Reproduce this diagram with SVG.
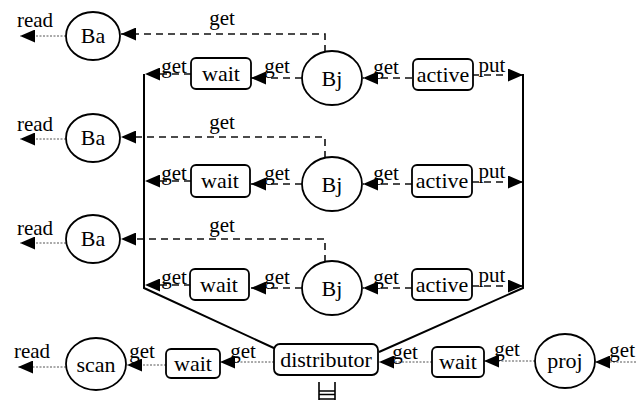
<svg xmlns="http://www.w3.org/2000/svg" width="636" height="402" viewBox="0 0 636 402" font-family="'Liberation Serif', 'Times New Roman', serif">
<style>
.n{font-size:22px;text-anchor:middle;fill:#000}
.e{font-size:21px;text-anchor:middle;fill:#000}
.shape{fill:#fff;stroke:#000;stroke-width:1.8}
.dash{fill:none;stroke:#111;stroke-width:1.6;stroke-dasharray:7 5}
.dot{fill:none;stroke:#555;stroke-width:1;stroke-dasharray:2 1.5}
.solid{fill:none;stroke:#000;stroke-width:2}
</style>
<defs>
<marker id="ah" markerUnits="userSpaceOnUse" markerWidth="15" markerHeight="13" refX="15" refY="6.5" orient="auto">
<path d="M0,0 L15,6.5 L0,13 z" fill="#000"/>
</marker>
</defs>
<g id="connectors">
<path class="dash" d="M325,52 V34 H121" marker-end="url(#ah)"/>
<path class="dot" d="M66,36 H20" marker-end="url(#ah)"/>
<path class="dash" d="M302,78 H251" marker-end="url(#ah)"/>
<path class="dash" d="M191,74 H145" marker-end="url(#ah)"/>
<path class="dash" d="M412,78 H363" marker-end="url(#ah)"/>
<path class="dash" d="M472,75 H523" marker-end="url(#ah)"/>
<path class="dash" d="M325,158 V137 H121" marker-end="url(#ah)"/>
<path class="dot" d="M66,139 H20" marker-end="url(#ah)"/>
<path class="dash" d="M302,184 H251" marker-end="url(#ah)"/>
<path class="dash" d="M191,181 H145" marker-end="url(#ah)"/>
<path class="dash" d="M412,184 H363" marker-end="url(#ah)"/>
<path class="dash" d="M472,182 H523" marker-end="url(#ah)"/>
<path class="dash" d="M325,262 V239 H121" marker-end="url(#ah)"/>
<path class="dot" d="M66,243 H20" marker-end="url(#ah)"/>
<path class="dash" d="M302,288 H251" marker-end="url(#ah)"/>
<path class="dash" d="M191,285 H145" marker-end="url(#ah)"/>
<path class="dash" d="M412,288 H363" marker-end="url(#ah)"/>
<path class="dash" d="M472,286 H523" marker-end="url(#ah)"/>
<path class="solid" d="M144,74 V288 L276,349"/>
<path class="solid" d="M523,74 V288 L379,352"/>
<path class="dot" d="M66,367 H18" marker-end="url(#ah)"/>
<path class="dot" d="M166,365 H127" marker-end="url(#ah)"/>
<path class="dot" d="M274,362 H220" marker-end="url(#ah)"/>
<path class="dot" d="M432,362 H379" marker-end="url(#ah)"/>
<path class="dot" d="M535,361 H484" marker-end="url(#ah)"/>
<path class="dot" d="M636,362 H595" marker-end="url(#ah)"/>
</g>
<g id="edge-labels">
<text class="e" x="222" y="25">get</text>
<text class="e" x="35" y="27">read</text>
<text class="e" x="174" y="73">get</text>
<text class="e" x="277" y="73">get</text>
<text class="e" x="386" y="74">get</text>
<text class="e" x="492" y="72">put</text>
<text class="e" x="222" y="129">get</text>
<text class="e" x="35" y="131">read</text>
<text class="e" x="174" y="180">get</text>
<text class="e" x="277" y="180">get</text>
<text class="e" x="386" y="180">get</text>
<text class="e" x="492" y="178">put</text>
<text class="e" x="222" y="232">get</text>
<text class="e" x="35" y="235">read</text>
<text class="e" x="174" y="284">get</text>
<text class="e" x="277" y="284">get</text>
<text class="e" x="386" y="284">get</text>
<text class="e" x="492" y="282">put</text>
<text class="e" x="32" y="358">read</text>
<text class="e" x="142" y="358">get</text>
<text class="e" x="243" y="358">get</text>
<text class="e" x="405" y="359">get</text>
<text class="e" x="507" y="356">get</text>
<text class="e" x="635" y="357" style="text-anchor:end">get</text>
</g>
<g id="Ba1"><ellipse class="shape" cx="93" cy="36" rx="27" ry="24"/><text class="n" x="93" y="43">Ba</text></g>
<g id="Ba2"><ellipse class="shape" cx="93" cy="138" rx="27" ry="24"/><text class="n" x="93" y="145">Ba</text></g>
<g id="Ba3"><ellipse class="shape" cx="93" cy="239" rx="27" ry="24"/><text class="n" x="93" y="246">Ba</text></g>
<g id="Bj1"><ellipse class="shape" cx="332" cy="78" rx="30" ry="27"/><text class="n" x="332" y="86">Bj</text></g>
<g id="Bj2"><ellipse class="shape" cx="332" cy="184" rx="30" ry="27"/><text class="n" x="332" y="192">Bj</text></g>
<g id="Bj3"><ellipse class="shape" cx="332" cy="288" rx="30" ry="27"/><text class="n" x="332" y="296">Bj</text></g>
<g id="wait1"><rect class="shape" x="191" y="58" width="60" height="31" rx="5"/><text class="n" x="221" y="81">wait</text></g>
<g id="wait2"><rect class="shape" x="191" y="165" width="59" height="32" rx="5"/><text class="n" x="220" y="188">wait</text></g>
<g id="wait3"><rect class="shape" x="190" y="269" width="59" height="31" rx="5"/><text class="n" x="219" y="292">wait</text></g>
<g id="active1"><rect class="shape" x="413" y="59" width="60" height="31" rx="5"/><text class="n" x="443" y="82">active</text></g>
<g id="active2"><rect class="shape" x="412" y="165" width="60" height="32" rx="5"/><text class="n" x="442" y="188">active</text></g>
<g id="active3"><rect class="shape" x="412" y="269" width="60" height="31" rx="5"/><text class="n" x="442" y="292">active</text></g>
<g id="scan"><ellipse class="shape" cx="96" cy="364" rx="30" ry="26"/><text class="n" x="96" y="372">scan</text></g>
<g id="wait4"><rect class="shape" x="166" y="349" width="54" height="29" rx="5"/><text class="n" x="193" y="371">wait</text></g>
<g id="distributor"><rect class="shape" x="274" y="344" width="104" height="31" rx="6"/><text class="n" x="326" y="367">distributor</text></g>
<g id="wait5"><rect class="shape" x="432" y="347" width="52" height="30" rx="5"/><text class="n" x="458" y="369">wait</text></g>
<g id="proj"><ellipse class="shape" cx="565" cy="361" rx="30" ry="27"/><text class="n" x="565" y="368">proj</text></g>
<g id="queue" fill="none" stroke="#000" stroke-width="1.6">
<path d="M319,382 V400 M335,382 V400 M319,391 H335 M319,394.5 H335 M319,399 H335"/>
</g>
</svg>
